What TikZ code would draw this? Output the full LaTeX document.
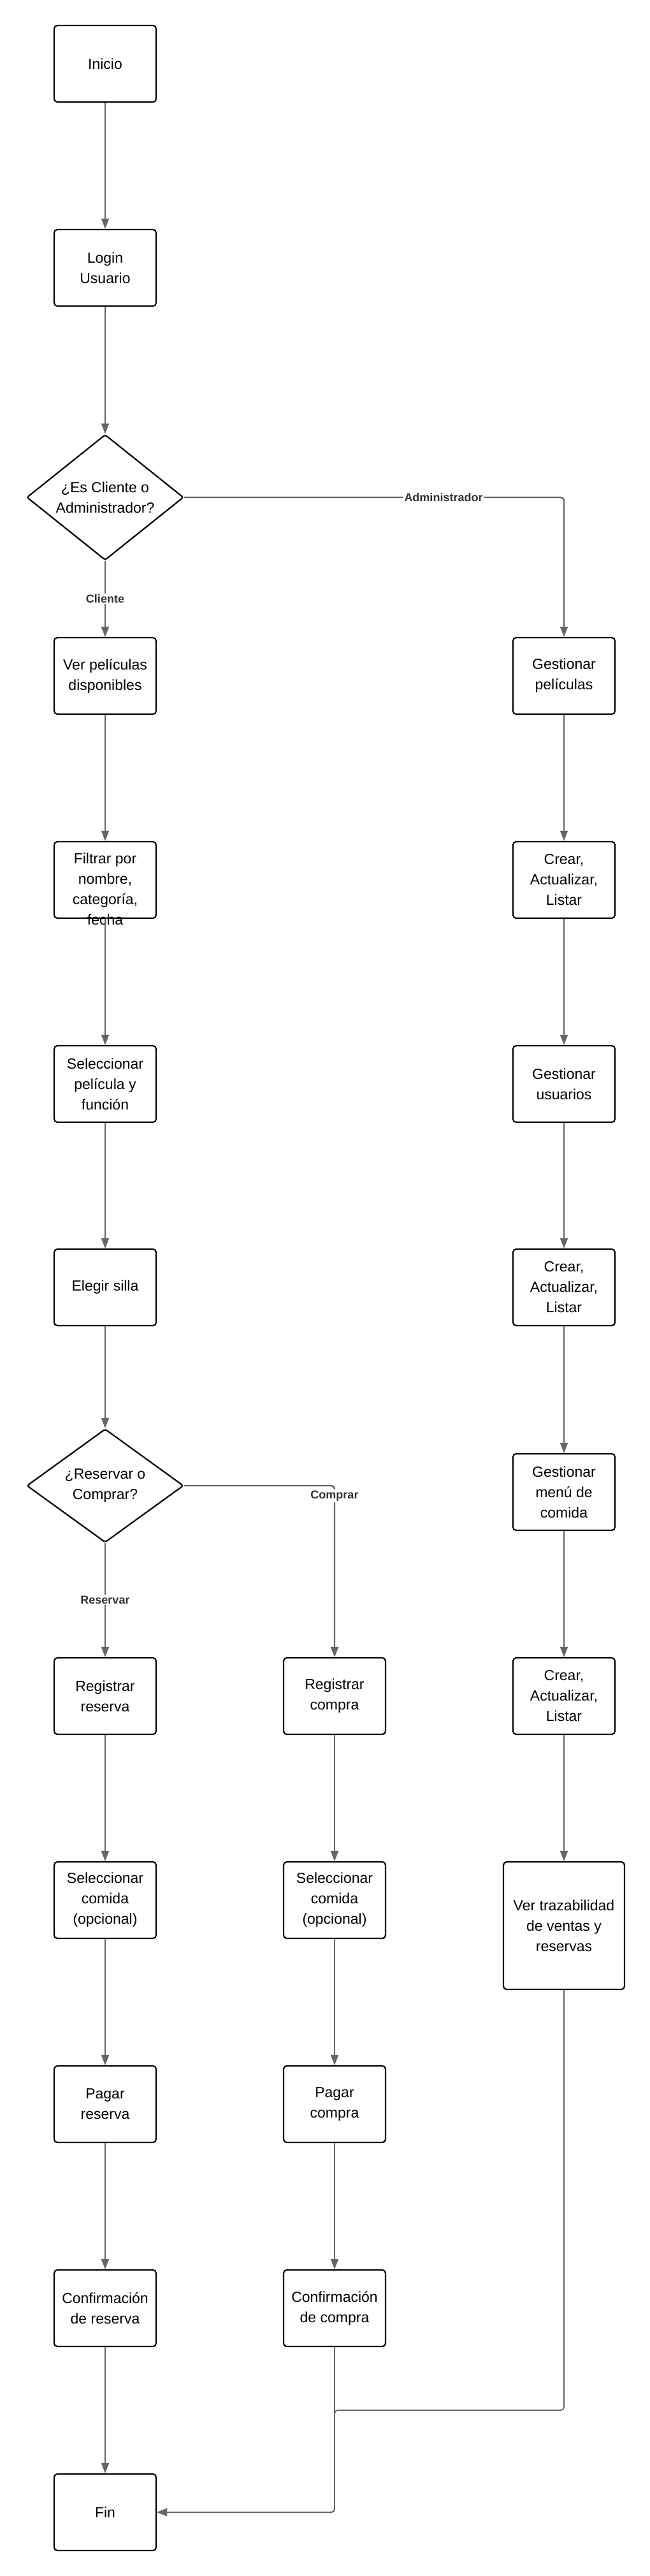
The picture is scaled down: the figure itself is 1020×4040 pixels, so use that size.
\documentclass[tikz,border=0pt]{standalone}
\usepackage{fontspec}
\setmainfont{Liberation Sans}
\usetikzlibrary{arrows.meta,shapes.geometric}
\definecolor{linegray}{HTML}{666666}
\definecolor{labgray}{HTML}{333333}
\begin{document}
\begin{tikzpicture}[x=1pt,y=-1pt,
  box/.style={draw=black,line width=2.2pt,rounded corners=5pt,minimum width=160pt,minimum height=120pt,inner sep=0pt,align=center,font=\fontsize{23}{32}\selectfont},
  dec/.style={diamond,draw=black,line width=2.2pt,rounded corners=3pt,minimum width=246pt,inner sep=0pt,align=center,font=\fontsize{23}{32}\selectfont},
  txt/.style={inner sep=0pt,align=center,font=\fontsize{23}{32}\selectfont},
  conn/.style={draw=linegray,line width=1.8pt,-{Triangle[length=16pt,width=12pt]},rounded corners=5pt},
  dconn/.style={conn,line width=2.4pt},
  lab/.style={fill=white,text=labgray,font=\fontsize{18}{20}\selectfont\bfseries,inner sep=1.5pt}]
\useasboundingbox[fill=white] (0,0) rectangle (1020,4040);

% left column
\node[box] (inicio) at (165,100) {Inicio};
\node[box] (login) at (165,420) {Login\\Usuario};
\node[dec,minimum height=197pt,aspect=1.25] (d1) at (165,780) {¿Es Cliente o\\Administrador?};
\node[box] (ver) at (165,1060) {Ver películas\\disponibles};
\node[box] (filtrar) at (165,1380) {};
\node[txt] (filtrarT) at (165,1394) {Filtrar por\\nombre,\\categoría,\\fecha};
\node[box] (selpel) at (165,1700) {Seleccionar\\película y\\función};
\node[box] (silla) at (165,2019) {Elegir silla};
\node[dec,minimum height=178pt,aspect=1.38] (d2) at (165,2330) {¿Reservar o\\Comprar?};
\node[box] (regres) at (165,2660) {Registrar\\reserva};
\node[box] (comres) at (165,2980) {Seleccionar\\comida\\(opcional)};
\node[box] (pagres) at (165,3300) {Pagar\\reserva};
\node[box] (confres) at (165,3620) {Confirmación\\de reserva};
\node[box] (fin) at (165,3940) {Fin};

% middle column
\node[box] (regcom) at (525,2660) {Registrar\\compra};
\node[box] (comcom) at (525,2980) {Seleccionar\\comida\\(opcional)};
\node[box] (pagcom) at (525,3300) {Pagar\\compra};
\node[box] (confcom) at (525,3620) {Confirmación\\de compra};

% right column
\node[box] (gespel) at (885,1060) {Gestionar\\películas};
\node[box] (crear1) at (885,1380) {Crear,\\Actualizar,\\Listar};
\node[box] (gesusu) at (885,1700) {Gestionar\\usuarios};
\node[box] (crear2) at (885,2019) {Crear,\\Actualizar,\\Listar};
\node[box] (gesmenu) at (885,2340) {Gestionar\\menú de\\comida};
\node[box] (crear3) at (885,2660) {Crear,\\Actualizar,\\Listar};
\node[box,minimum width=190pt,minimum height=200pt] (traz) at (885,3020) {Ver trazabilidad\\de ventas y\\reservas};

% connectors
\draw[conn] (inicio) -- (login);
\draw[conn] (login) -- (d1);
\draw[dconn] (d1.south) -- (ver.north);
\draw[dconn] (d1.east) -| (gespel.north);
\draw[conn] (ver) -- (filtrar);
\draw[conn] (filtrar) -- (selpel);
\draw[conn] (selpel) -- (silla);
\draw[conn] (silla) -- (d2);
\draw[dconn] (d2.south) -- (regres.north);
\draw[dconn] (d2.east) -| (regcom.north);
\draw[conn] (regres) -- (comres);
\draw[conn] (comres) -- (pagres);
\draw[conn] (pagres) -- (confres);
\draw[conn] (confres) -- (fin);
\draw[conn] (regcom) -- (comcom);
\draw[conn] (comcom) -- (pagcom);
\draw[conn] (pagcom) -- (confcom);
\draw[conn] (gespel) -- (crear1);
\draw[conn] (crear1) -- (gesusu);
\draw[conn] (gesusu) -- (crear2);
\draw[conn] (crear2) -- (gesmenu);
\draw[conn] (gesmenu) -- (crear3);
\draw[conn] (crear3) -- (traz);
\coordinate (join) at (525,3780);
\draw[conn] (traz.south) |- (join) |- (fin.east);
\draw[conn] (confcom.south) |- (fin.east);

% labels
\node[lab] (labAdmin) at (696,780) {Administrador};
\node[lab] (labCliente) at (165,939) {Cliente};
\node[lab] (labReservar) at (165,2509) {Reservar};
\node[lab] (labComprar) at (525,2346) {Comprar};
\end{tikzpicture}
\end{document}
